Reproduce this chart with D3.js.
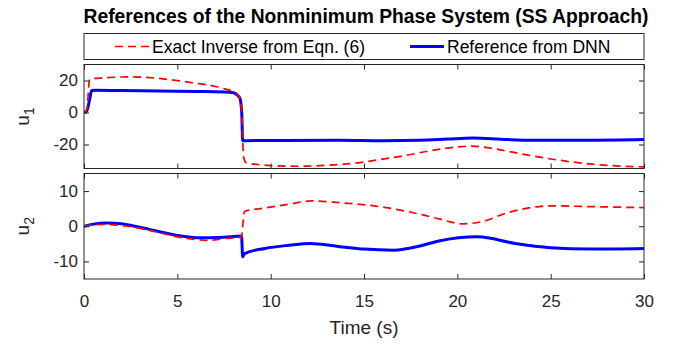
<!DOCTYPE html>
<html>
<head>
<meta charset="utf-8">
<script src="https://cdn.jsdelivr.net/npm/d3@7"></script>
<style>
  body { margin: 0; background: #fff; }
  svg { font-family: "Liberation Sans", Arial, Helvetica, sans-serif; }
  .axis text { fill: #262626; font-size: 17px; }
  .axis path, .axis line { stroke: #262626; }
</style>
</head>
<body>
<div id="chart-area"></div>
<script>
// u1, exact inverse (red dashed)
const u1ExactT = [0, 0.15, 0.3, 0.5, 1, 2.5, 4, 5.1, 6, 7, 7.4, 8.1, 8.3, 8.45, 8.55, 8.7, 9.3, 10, 11.5, 13, 14.8, 15.8, 17.3, 18.7, 20.2, 20.8, 21.5, 23.3, 25.1, 27.2, 30];
const u1ExactV = [0, 2, 20.6, 21.2, 21.6, 22.3, 21.3, 19.8, 18.3, 16.4, 15.2, 12.5, 10, 0, -28, -31.5, -32.5, -33.2, -33.6, -33, -31.3, -29.5, -26.7, -23.6, -21.3, -21, -21.8, -25.6, -29.2, -32.3, -34];
// u1, DNN reference (blue)
const u1DnnT = [0, 0.15, 0.3, 0.41, 0.6, 2, 4, 6, 7.5, 8.0, 8.2, 8.35, 8.45, 8.5, 8.7, 10, 13.7, 16, 18, 19.5, 20.8, 22.5, 24, 27, 30];
const u1DnnV = [0, 1, 8, 13.7, 13.9, 13.7, 13.5, 13.2, 12.8, 12.3, 11, 9, 0, -17.7, -17.6, -17.5, -17.3, -17.6, -17.3, -16.6, -16, -16.8, -17.3, -17.3, -16.9];
// u2, exact inverse (red dashed)
const u2ExactT = [0, 1, 2, 3, 4, 5, 6, 6.7, 7.5, 8.44, 8.5, 8.6, 9.7, 11, 12.2, 13.7, 15.8, 18.1, 19, 20.3, 21.4, 22.6, 24.4, 25, 27, 30];
const u2ExactV = [0, 0.5, 0.2, -0.6, -1.8, -3, -3.8, -4, -3.5, -3.1, 0, 4.2, 5.2, 6.3, 7.2, 6.7, 5.6, 3.3, 2.1, 0.7, 1.4, 3.7, 5.6, 5.8, 5.6, 5.3];
// u2, DNN reference (blue)
const u2DnnT = [0, 0.5, 1.2, 2, 3, 4, 5, 6.2, 7.5, 8.44, 8.5, 8.6, 9.7, 11, 12.1, 13.7, 15, 16.6, 18, 19, 21.1, 23.1, 25, 27.1, 30];
const u2DnnV = [0, 0.6, 0.95, 0.7, -0.3, -1.5, -2.6, -3.3, -3.1, -2.8, -8.7, -7.8, -6.3, -5.4, -4.9, -5.8, -6.5, -6.8, -5.6, -4.2, -3, -4.9, -6.1, -6.5, -6.3];

const xTicks = [0, 5, 10, 15, 20, 25, 30];
const u1Ticks = [-20, 0, 20];
const u2Ticks = [-10, 0, 10];
const seriesNames = ["Exact Inverse from Eqn. (6)", "Reference from DNN"];

const svgWidth = 679, svgHeight = 349;
const left = 84, right = 644;
const red = "#ff0000", blue = "#0000ff";

const svg = d3.select("#chart-area")
    .append("svg")
    .attr("width", svgWidth)
    .attr("height", svgHeight);

const x = d3.scaleLinear().domain([0, 30]).range([left, right]);

svg.append("text")
    .attr("x", 366)
    .attr("y", 23)
    .attr("text-anchor", "middle")
    .style("font-weight", "bold")
    .style("font-size", "19.3px")
    .attr("fill", "#000")
    .text("References of the Nonminimum Phase System (SS Approach)");

const zip = (ts, vs) => ts.map((t, i) => ({ t, v: vs[i] }));
// plain hyphen for negatives, like the original
const plain = d => String(d);

function drawPanel(top, bottom, domain, yTicks, sub, exact, dnn, showX) {
    const y = d3.scaleLinear().domain(domain).range([bottom, top]);
    const g = svg.append("g");
    const clipId = "clip" + sub;
    svg.append("defs").append("clipPath").attr("id", clipId)
        .append("rect").attr("x", left).attr("y", top)
        .attr("width", right - left).attr("height", bottom - top);

    const line = d3.line().x(d => x(d.t)).y(d => y(d.v)).curve(d3.curveMonotoneX);
    const plot = g.append("g").attr("clip-path", `url(#${clipId})`);
    plot.append("path").datum(dnn)
        .attr("fill", "none").attr("stroke", blue).attr("stroke-width", 3)
        .attr("stroke-linejoin", "round")
        .attr("d", line);
    plot.append("path").datum(exact)
        .attr("fill", "none").attr("stroke", red).attr("stroke-width", 1.7)
        .attr("stroke-dasharray", "8,5")
        .attr("d", line);

    const tk = 5;
    g.append("g").attr("class", "axis")
        .attr("transform", `translate(${left},0)`)
        .call(d3.axisLeft(y).tickValues(yTicks).tickSizeInner(-tk).tickSizeOuter(0).tickPadding(6).tickFormat(plain))
        .call(s => s.select(".domain").remove());
    g.append("g").attr("class", "axis")
        .attr("transform", `translate(${right},0)`)
        .call(d3.axisRight(y).tickValues(yTicks).tickSizeInner(-tk).tickSizeOuter(0).tickFormat(""))
        .call(s => s.select(".domain").remove());
    g.append("g").attr("class", "axis")
        .attr("transform", `translate(0,${top})`)
        .call(d3.axisTop(x).tickValues(xTicks).tickSizeInner(-tk).tickSizeOuter(0).tickFormat(""))
        .call(s => s.select(".domain").remove());
    g.append("g").attr("class", "axis")
        .attr("transform", `translate(0,${bottom})`)
        .call(d3.axisBottom(x).tickValues(xTicks).tickSizeInner(-tk).tickSizeOuter(0)
            .tickPadding(16).tickFormat(showX ? plain : ""))
        .call(s => s.select(".domain").remove());

    g.append("rect")
        .attr("x", left).attr("y", top)
        .attr("width", right - left).attr("height", bottom - top)
        .attr("fill", "none").attr("stroke", "#262626").attr("stroke-width", 1);

    const lab = g.append("text")
        .attr("transform", `translate(29,${(top + bottom) / 2}) rotate(-90)`)
        .attr("text-anchor", "middle")
        .attr("fill", "#262626")
        .style("font-size", "19px");
    lab.append("tspan").text("u");
    lab.append("tspan").attr("dy", 5).style("font-size", "14px").text(sub);
}

drawPanel(64.5, 168.5, [-35, 30], u1Ticks, "1", zip(u1ExactT, u1ExactV), zip(u1DnnT, u1DnnV), false);
drawPanel(173.5, 279, [-15, 15], u2Ticks, "2", zip(u2ExactT, u2ExactV), zip(u2DnnT, u2DnnV), true);

svg.append("text")
    .attr("x", (left + right) / 2)
    .attr("y", 334)
    .attr("text-anchor", "middle")
    .attr("fill", "#262626")
    .style("font-size", "19px")
    .text("Time (s)");

// legend
const lg = svg.append("g");
lg.append("rect")
    .attr("x", left).attr("y", 33.5)
    .attr("width", right - left).attr("height", 26)
    .attr("fill", "#fff").attr("stroke", "#262626").attr("stroke-width", 1);
const items = [
    { name: seriesNames[0], color: red, dash: "8,5", w: 1.7, x0: 115 },
    { name: seriesNames[1], color: blue, dash: null, w: 3, x0: 410 }
];
items.forEach(d => {
    lg.append("line")
        .attr("x1", d.x0).attr("x2", d.x0 + 34)
        .attr("y1", 46.5).attr("y2", 46.5)
        .attr("stroke", d.color).attr("stroke-width", d.w)
        .attr("stroke-dasharray", d.dash);
    lg.append("text")
        .attr("x", d.x0 + 37).attr("y", 53)
        .attr("fill", "#000")
        .style("font-size", "17.5px")
        .text(d.name);
});
</script>
</body>
</html>
